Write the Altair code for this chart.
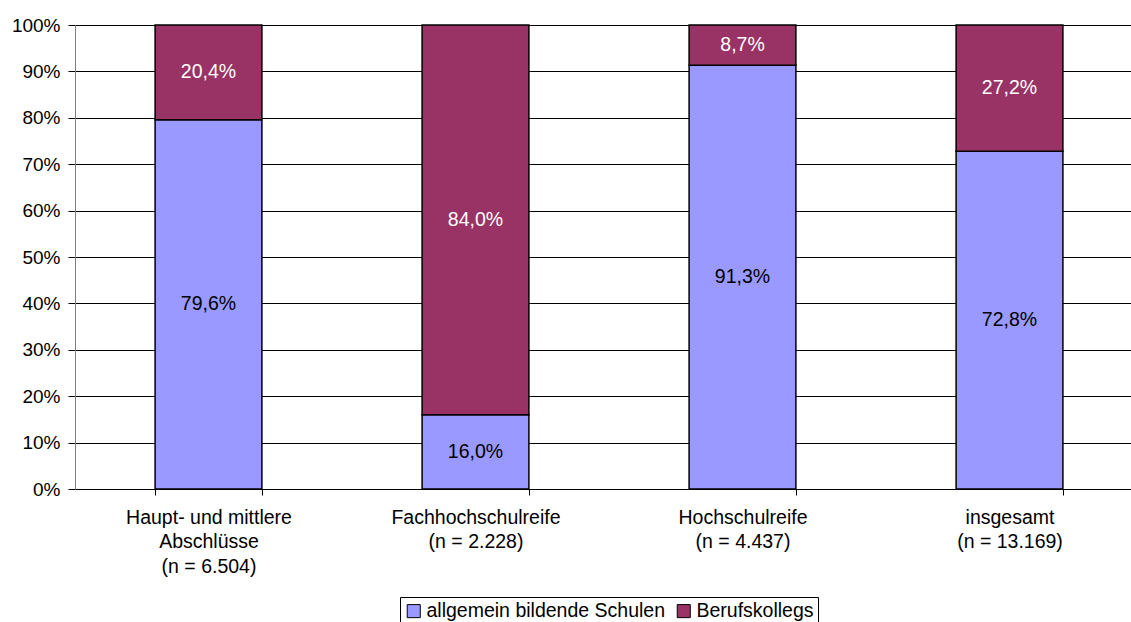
import altair as alt
import pandas as pd

categories = [
    "Haupt- und mittlere|Abschlüsse|(n = 6.504)",
    "Fachhochschulreife|(n = 2.228)",
    "Hochschulreife|(n = 4.437)",
    "insgesamt|(n = 13.169)",
]
series = ["allgemein bildende Schulen", "Berufskollegs"]
allgemein = [79.6, 16.0, 91.3, 72.8]
beruf = [20.4, 84.0, 8.7, 27.2]
colors = ["#9999FF", "#993366"]
label_colors = ["black", "white"]

rows = []
for i, cat in enumerate(categories):
    for j, (name, vals) in enumerate(zip(series, [allgemein, beruf])):
        v = vals[i]
        rows.append({
            "cat": cat,
            "series": name,
            "order": j,
            "value": v,
            "label": f"{v:.1f}".replace(".", ",") + "%",
            "lc": label_colors[j],
        })
df = pd.DataFrame(rows)

FONT = "Liberation Sans"
FS = 19.5

x = alt.X(
    "cat:N",
    sort=categories,
    title=None,
    scale=alt.Scale(range=[0, 1068], paddingInner=0.6, paddingOuter=0.3),
    axis=alt.Axis(
        labelExpr="split(datum.label, '|')",
        labelAngle=0,
        labelFont=FONT,
        labelFontSize=FS,
        labelColor="black",
        labelLineHeight=24.5,
        labelPadding=13,
        labelBaseline="top",
        labelLimit=0,
        tickBand="extent",
        tickSize=6,
        tickColor="black",
        domainColor="black",
        grid=False,
    ),
)

base = alt.Chart(df).transform_stack(
    stack="value", groupby=["cat"], as_=["y0", "y1"], sort=[alt.SortField("order")]
).transform_calculate(mid="(datum.y0 + datum.y1) / 2")

bars = base.mark_bar(stroke="black", strokeWidth=1.5).encode(
    x=x,
    y=alt.Y(
        "y0:Q",
        title=None,
        scale=alt.Scale(domain=[0, 100], nice=False),
        axis=alt.Axis(
            values=list(range(0, 101, 10)),
            labelExpr="datum.value + '%'",
            labelFont=FONT,
            labelFontSize=19,
            labelColor="black",
            labelPadding=8,
            tickSize=7,
            tickColor="black",
            domainColor="#808080",
            gridColor="black",
            gridWidth=1,
        ),
    ),
    y2="y1:Q",
    color=alt.Color(
        "series:N",
        sort=series,
        scale=alt.Scale(domain=series, range=colors),
        legend=alt.Legend(
            title=None,
            orient="none",
            direction="horizontal",
            legendX=325,
            legendY=572,
            symbolType="square",
            symbolSize=170,
            symbolStrokeColor="black",
            symbolStrokeWidth=1,
            symbolOpacity=1,
            labelFont=FONT,
            labelFontSize=FS,
            labelColor="black",
            labelLimit=0,
            labelOffset=3,
            columnPadding=8,
            padding=4,
            strokeColor="black",
            fillColor="white",
        ),
    ),
    order=alt.Order("order:Q"),
)

labels = base.mark_text(font=FONT, fontSize=FS).encode(
    x=alt.X("cat:N", sort=categories),
    y=alt.Y("mid:Q"),
    text="label:N",
    color=alt.Color("lc:N", scale=None),
)

chart = (
    alt.layer(bars, labels)
    .properties(
        width=1056,
        height=464,
        autosize=alt.AutoSizeParams(type="none"),
        padding={"left": 75, "top": 25, "right": 0, "bottom": 133},
    )
    .configure_view(stroke=None)
    .configure(background="white")
)

chart.save("out.html", embed_options={"renderer": "svg", "actions": False})
